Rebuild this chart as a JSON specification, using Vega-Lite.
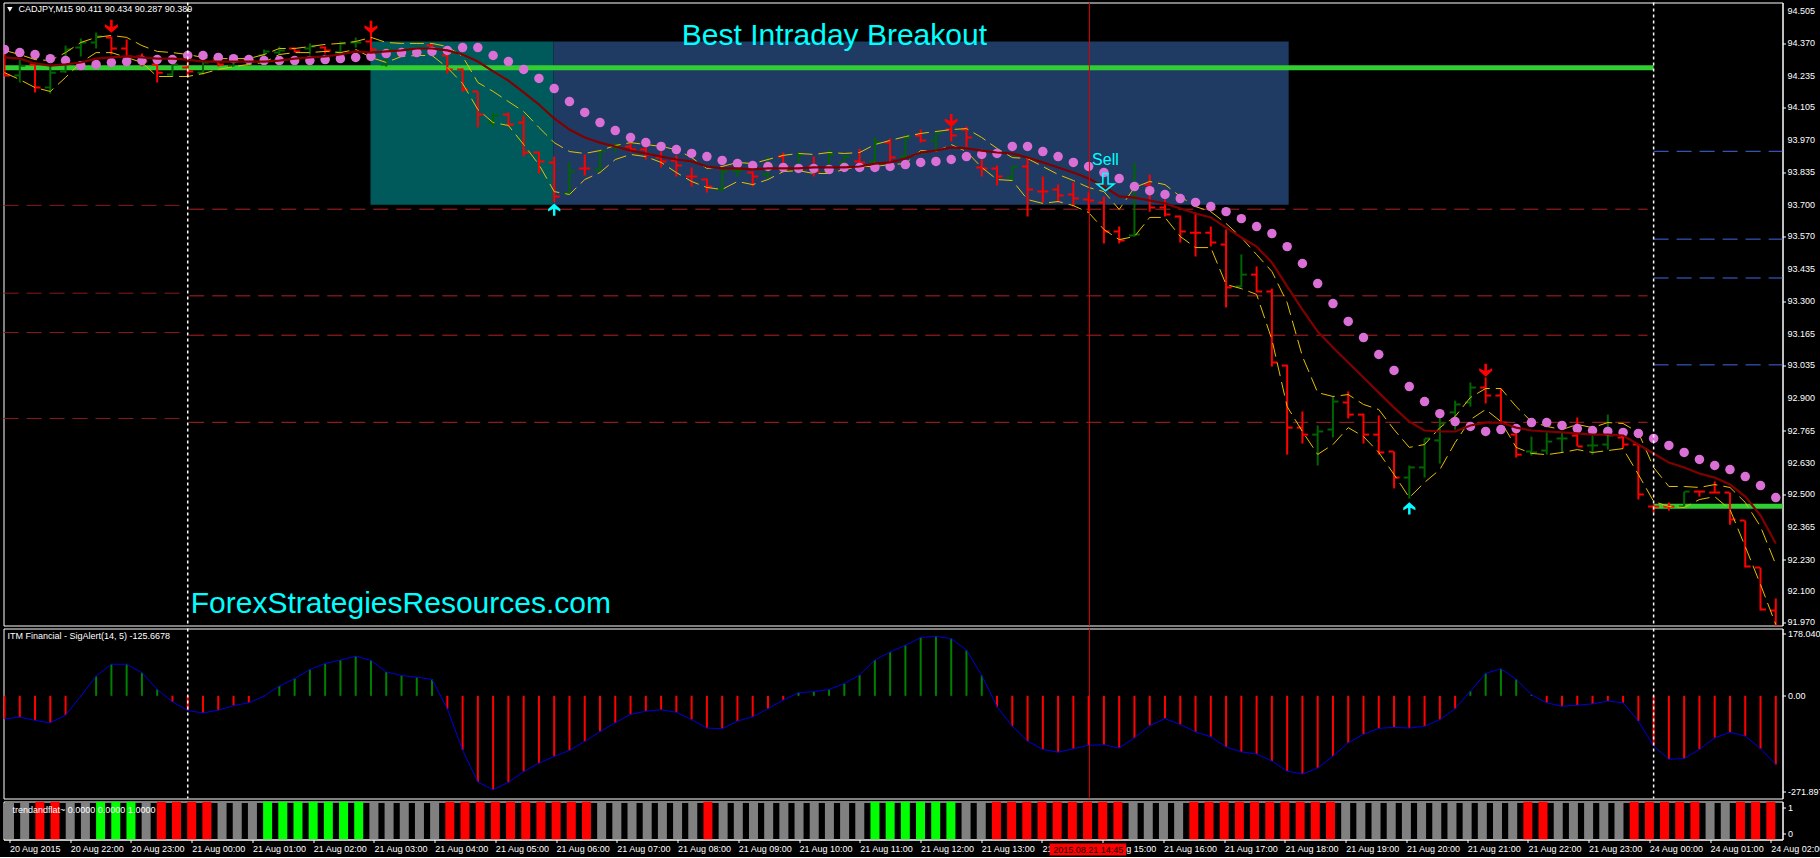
{
"$schema":"https://vega.github.io/schema/vega-lite/v6.json",
"background":"#000000",
"padding":{"left":0.5,"top":0.5,"right":0,"bottom":0},
"spacing":3,
"bounds":"flush",
"config":{"view":{"stroke":"#ffffff","strokeWidth":1},"concat":{"spacing":3},"font":"Liberation Sans","axis":{"labelFont":"Liberation Sans","labelOverlap":false}},
"datasets":{
"bars":[
{"i":0,"h":94.344,"l":94.232,"o":94.331,"c":94.236,"dir":"down","ma":94.311,"sar":94.344,"up":94.340,"lo":94.248},
{"i":1,"h":94.302,"l":94.207,"o":94.236,"c":94.277,"dir":"up","ma":94.306,"sar":94.331,"up":94.323,"lo":94.219},
{"i":2,"h":94.290,"l":94.166,"o":94.282,"c":94.186,"dir":"down","ma":94.286,"sar":94.323,"up":94.302,"lo":94.186},
{"i":3,"h":94.277,"l":94.161,"o":94.186,"c":94.248,"dir":"up","ma":94.277,"sar":94.306,"up":94.298,"lo":94.170},
{"i":4,"h":94.360,"l":94.248,"o":94.253,"c":94.344,"dir":"up","ma":94.282,"sar":94.298,"up":94.331,"lo":94.228},
{"i":5,"h":94.389,"l":94.315,"o":94.352,"c":94.373,"dir":"up","ma":94.290,"sar":94.277,"up":94.373,"lo":94.290},
{"i":6,"h":94.414,"l":94.348,"o":94.373,"c":94.398,"dir":"up","ma":94.306,"sar":94.282,"up":94.394,"lo":94.331},
{"i":7,"h":94.398,"l":94.323,"o":94.394,"c":94.348,"dir":"down","ma":94.311,"sar":94.290,"up":94.402,"lo":94.331},
{"i":8,"h":94.385,"l":94.306,"o":94.348,"c":94.315,"dir":"down","ma":94.315,"sar":94.294,"up":94.394,"lo":94.311},
{"i":9,"h":94.327,"l":94.273,"o":94.315,"c":94.294,"dir":"down","ma":94.311,"sar":94.298,"up":94.360,"lo":94.290},
{"i":10,"h":94.290,"l":94.207,"o":94.282,"c":94.248,"dir":"down","ma":94.306,"sar":94.302,"up":94.336,"lo":94.232},
{"i":11,"h":94.290,"l":94.232,"o":94.240,"c":94.282,"dir":"up","ma":94.306,"sar":94.302,"up":94.331,"lo":94.232},
{"i":12,"h":94.294,"l":94.232,"o":94.269,"c":94.253,"dir":"down","ma":94.302,"sar":94.319,"up":94.323,"lo":94.232},
{"i":13,"h":94.294,"l":94.240,"o":94.248,"c":94.290,"dir":"up","ma":94.294,"sar":94.319,"up":94.311,"lo":94.244},
{"i":14,"h":94.302,"l":94.273,"o":94.298,"c":94.282,"dir":"down","ma":94.294,"sar":94.311,"up":94.306,"lo":94.261},
{"i":15,"h":94.302,"l":94.273,"o":94.277,"c":94.294,"dir":"up","ma":94.294,"sar":94.306,"up":94.306,"lo":94.273},
{"i":16,"h":94.311,"l":94.290,"o":94.306,"c":94.294,"dir":"down","ma":94.294,"sar":94.302,"up":94.306,"lo":94.282},
{"i":17,"h":94.344,"l":94.290,"o":94.319,"c":94.336,"dir":"up","ma":94.294,"sar":94.298,"up":94.323,"lo":94.290},
{"i":18,"h":94.356,"l":94.323,"o":94.331,"c":94.340,"dir":"up","ma":94.298,"sar":94.298,"up":94.348,"lo":94.323},
{"i":19,"h":94.352,"l":94.331,"o":94.348,"c":94.336,"dir":"down","ma":94.306,"sar":94.298,"up":94.348,"lo":94.331},
{"i":20,"h":94.369,"l":94.323,"o":94.348,"c":94.356,"dir":"up","ma":94.311,"sar":94.298,"up":94.356,"lo":94.331},
{"i":21,"h":94.356,"l":94.327,"o":94.352,"c":94.340,"dir":"down","ma":94.315,"sar":94.302,"up":94.365,"lo":94.336},
{"i":22,"h":94.377,"l":94.323,"o":94.331,"c":94.369,"dir":"up","ma":94.323,"sar":94.306,"up":94.369,"lo":94.331},
{"i":23,"h":94.394,"l":94.352,"o":94.373,"c":94.373,"dir":"up","ma":94.336,"sar":94.311,"up":94.377,"lo":94.344},
{"i":24,"h":94.414,"l":94.336,"o":94.377,"c":94.344,"dir":"down","ma":94.331,"sar":94.315,"up":94.394,"lo":94.311},
{"i":25,"h":94.356,"l":94.273,"o":94.282,"c":94.344,"dir":"up","ma":94.336,"sar":94.327,"up":94.373,"lo":94.290},
{"i":26,"h":94.348,"l":94.315,"o":94.323,"c":94.340,"dir":"up","ma":94.340,"sar":94.331,"up":94.369,"lo":94.315},
{"i":27,"h":94.356,"l":94.323,"o":94.331,"c":94.348,"dir":"up","ma":94.348,"sar":94.331,"up":94.369,"lo":94.319},
{"i":28,"h":94.369,"l":94.340,"o":94.360,"c":94.348,"dir":"down","ma":94.348,"sar":94.336,"up":94.369,"lo":94.319},
{"i":29,"h":94.336,"l":94.244,"o":94.319,"c":94.261,"dir":"down","ma":94.340,"sar":94.340,"up":94.356,"lo":94.269},
{"i":30,"h":94.265,"l":94.170,"o":94.261,"c":94.178,"dir":"down","ma":94.323,"sar":94.352,"up":94.315,"lo":94.203},
{"i":31,"h":94.170,"l":94.021,"o":94.170,"c":94.074,"dir":"down","ma":94.294,"sar":94.352,"up":94.207,"lo":94.095},
{"i":32,"h":94.079,"l":94.025,"o":94.041,"c":94.070,"dir":"up","ma":94.253,"sar":94.319,"up":94.170,"lo":94.041},
{"i":33,"h":94.083,"l":94.025,"o":94.074,"c":94.033,"dir":"down","ma":94.215,"sar":94.294,"up":94.128,"lo":94.029},
{"i":34,"h":94.070,"l":93.900,"o":94.041,"c":93.917,"dir":"down","ma":94.166,"sar":94.261,"up":94.087,"lo":93.950},
{"i":35,"h":93.921,"l":93.830,"o":93.917,"c":93.880,"dir":"down","ma":94.116,"sar":94.224,"up":94.021,"lo":93.867},
{"i":36,"h":93.900,"l":93.710,"o":93.876,"c":93.735,"dir":"down","ma":94.058,"sar":94.182,"up":93.958,"lo":93.755},
{"i":37,"h":93.876,"l":93.743,"o":93.747,"c":93.838,"dir":"up","ma":94.012,"sar":94.128,"up":93.921,"lo":93.743},
{"i":38,"h":93.909,"l":93.822,"o":93.851,"c":93.851,"dir":"down","ma":93.979,"sar":94.083,"up":93.913,"lo":93.805},
{"i":39,"h":93.925,"l":93.838,"o":93.847,"c":93.921,"dir":"up","ma":93.958,"sar":94.041,"up":93.925,"lo":93.834},
{"i":40,"h":93.958,"l":93.917,"o":93.942,"c":93.946,"dir":"up","ma":93.942,"sar":94.008,"up":93.946,"lo":93.888},
{"i":41,"h":93.958,"l":93.917,"o":93.942,"c":93.929,"dir":"down","ma":93.925,"sar":93.979,"up":93.958,"lo":93.909},
{"i":42,"h":93.942,"l":93.888,"o":93.929,"c":93.909,"dir":"down","ma":93.913,"sar":93.958,"up":93.950,"lo":93.900},
{"i":43,"h":93.921,"l":93.855,"o":93.896,"c":93.880,"dir":"down","ma":93.900,"sar":93.942,"up":93.942,"lo":93.876},
{"i":44,"h":93.905,"l":93.818,"o":93.884,"c":93.863,"dir":"down","ma":93.888,"sar":93.929,"up":93.929,"lo":93.834},
{"i":45,"h":93.855,"l":93.776,"o":93.818,"c":93.818,"dir":"down","ma":93.880,"sar":93.913,"up":93.896,"lo":93.797},
{"i":46,"h":93.809,"l":93.751,"o":93.805,"c":93.776,"dir":"down","ma":93.859,"sar":93.900,"up":93.851,"lo":93.772},
{"i":47,"h":93.859,"l":93.755,"o":93.764,"c":93.838,"dir":"up","ma":93.851,"sar":93.884,"up":93.859,"lo":93.764},
{"i":48,"h":93.880,"l":93.818,"o":93.842,"c":93.842,"dir":"up","ma":93.851,"sar":93.871,"up":93.876,"lo":93.797},
{"i":49,"h":93.838,"l":93.776,"o":93.834,"c":93.818,"dir":"down","ma":93.847,"sar":93.863,"up":93.871,"lo":93.784},
{"i":50,"h":93.900,"l":93.809,"o":93.826,"c":93.863,"dir":"up","ma":93.851,"sar":93.859,"up":93.888,"lo":93.805},
{"i":51,"h":93.917,"l":93.842,"o":93.900,"c":93.859,"dir":"down","ma":93.851,"sar":93.855,"up":93.905,"lo":93.838},
{"i":52,"h":93.921,"l":93.838,"o":93.842,"c":93.909,"dir":"up","ma":93.851,"sar":93.851,"up":93.913,"lo":93.842},
{"i":53,"h":93.900,"l":93.818,"o":93.859,"c":93.838,"dir":"down","ma":93.855,"sar":93.851,"up":93.909,"lo":93.830},
{"i":54,"h":93.929,"l":93.834,"o":93.838,"c":93.909,"dir":"up","ma":93.855,"sar":93.847,"up":93.917,"lo":93.830},
{"i":55,"h":93.909,"l":93.847,"o":93.876,"c":93.900,"dir":"up","ma":93.855,"sar":93.855,"up":93.913,"lo":93.847},
{"i":56,"h":93.933,"l":93.855,"o":93.880,"c":93.876,"dir":"down","ma":93.859,"sar":93.855,"up":93.917,"lo":93.859},
{"i":57,"h":93.979,"l":93.876,"o":93.880,"c":93.958,"dir":"up","ma":93.871,"sar":93.855,"up":93.950,"lo":93.859},
{"i":58,"h":93.975,"l":93.876,"o":93.958,"c":93.896,"dir":"down","ma":93.876,"sar":93.859,"up":93.967,"lo":93.867},
{"i":59,"h":93.992,"l":93.896,"o":93.900,"c":93.979,"dir":"up","ma":93.892,"sar":93.867,"up":93.983,"lo":93.871},
{"i":60,"h":94.012,"l":93.958,"o":93.987,"c":93.967,"dir":"down","ma":93.917,"sar":93.876,"up":93.996,"lo":93.925},
{"i":61,"h":93.999,"l":93.925,"o":93.967,"c":93.996,"dir":"up","ma":93.925,"sar":93.880,"up":94.004,"lo":93.921},
{"i":62,"h":94.025,"l":93.963,"o":94.012,"c":93.987,"dir":"down","ma":93.938,"sar":93.888,"up":94.012,"lo":93.950},
{"i":63,"h":94.025,"l":93.938,"o":94.012,"c":93.979,"dir":"down","ma":93.934,"sar":93.900,"up":94.016,"lo":93.921},
{"i":64,"h":93.888,"l":93.818,"o":93.855,"c":93.851,"dir":"down","ma":93.925,"sar":93.909,"up":93.979,"lo":93.855},
{"i":65,"h":93.863,"l":93.780,"o":93.851,"c":93.818,"dir":"down","ma":93.917,"sar":93.913,"up":93.934,"lo":93.805},
{"i":66,"h":93.859,"l":93.797,"o":93.813,"c":93.859,"dir":"up","ma":93.913,"sar":93.942,"up":93.896,"lo":93.801},
{"i":67,"h":93.892,"l":93.652,"o":93.859,"c":93.764,"dir":"down","ma":93.896,"sar":93.942,"up":93.892,"lo":93.722},
{"i":68,"h":93.818,"l":93.710,"o":93.755,"c":93.755,"dir":"down","ma":93.876,"sar":93.921,"up":93.859,"lo":93.706},
{"i":69,"h":93.784,"l":93.710,"o":93.764,"c":93.739,"dir":"down","ma":93.855,"sar":93.900,"up":93.826,"lo":93.714},
{"i":70,"h":93.793,"l":93.693,"o":93.743,"c":93.726,"dir":"down","ma":93.834,"sar":93.876,"up":93.801,"lo":93.697},
{"i":71,"h":93.751,"l":93.672,"o":93.722,"c":93.718,"dir":"down","ma":93.809,"sar":93.859,"up":93.772,"lo":93.668},
{"i":72,"h":93.735,"l":93.540,"o":93.710,"c":93.590,"dir":"down","ma":93.776,"sar":93.834,"up":93.755,"lo":93.598},
{"i":73,"h":93.610,"l":93.540,"o":93.590,"c":93.552,"dir":"down","ma":93.735,"sar":93.809,"up":93.681,"lo":93.556},
{"i":74,"h":93.876,"l":93.569,"o":93.573,"c":93.577,"dir":"up","ma":93.730,"sar":93.776,"up":93.772,"lo":93.569},
{"i":75,"h":93.826,"l":93.672,"o":93.784,"c":93.689,"dir":"down","ma":93.718,"sar":93.759,"up":93.797,"lo":93.648},
{"i":76,"h":93.722,"l":93.652,"o":93.689,"c":93.660,"dir":"down","ma":93.706,"sar":93.743,"up":93.784,"lo":93.648},
{"i":77,"h":93.656,"l":93.544,"o":93.652,"c":93.590,"dir":"down","ma":93.685,"sar":93.726,"up":93.735,"lo":93.569},
{"i":78,"h":93.668,"l":93.486,"o":93.585,"c":93.585,"dir":"down","ma":93.664,"sar":93.710,"up":93.693,"lo":93.523},
{"i":79,"h":93.610,"l":93.527,"o":93.585,"c":93.544,"dir":"down","ma":93.648,"sar":93.693,"up":93.672,"lo":93.523},
{"i":80,"h":93.598,"l":93.275,"o":93.536,"c":93.358,"dir":"down","ma":93.606,"sar":93.672,"up":93.623,"lo":93.370},
{"i":81,"h":93.494,"l":93.358,"o":93.362,"c":93.411,"dir":"up","ma":93.565,"sar":93.643,"up":93.565,"lo":93.353},
{"i":82,"h":93.445,"l":93.337,"o":93.411,"c":93.341,"dir":"down","ma":93.527,"sar":93.610,"up":93.494,"lo":93.329},
{"i":83,"h":93.353,"l":93.030,"o":93.341,"c":93.047,"dir":"down","ma":93.461,"sar":93.581,"up":93.424,"lo":93.142},
{"i":84,"h":93.038,"l":92.665,"o":93.034,"c":92.777,"dir":"down","ma":93.362,"sar":93.527,"up":93.295,"lo":92.864},
{"i":85,"h":92.844,"l":92.711,"o":92.777,"c":92.748,"dir":"down","ma":93.266,"sar":93.457,"up":93.072,"lo":92.761},
{"i":86,"h":92.786,"l":92.620,"o":92.748,"c":92.761,"dir":"up","ma":93.175,"sar":93.374,"up":92.922,"lo":92.666},
{"i":87,"h":92.906,"l":92.736,"o":92.769,"c":92.885,"dir":"up","ma":93.109,"sar":93.291,"up":92.906,"lo":92.707},
{"i":88,"h":92.927,"l":92.815,"o":92.881,"c":92.831,"dir":"down","ma":93.047,"sar":93.217,"up":92.914,"lo":92.777},
{"i":89,"h":92.835,"l":92.711,"o":92.831,"c":92.748,"dir":"down","ma":92.985,"sar":93.150,"up":92.873,"lo":92.740},
{"i":90,"h":92.827,"l":92.665,"o":92.748,"c":92.674,"dir":"down","ma":92.922,"sar":93.080,"up":92.852,"lo":92.674},
{"i":91,"h":92.678,"l":92.525,"o":92.678,"c":92.570,"dir":"down","ma":92.860,"sar":93.014,"up":92.769,"lo":92.583},
{"i":92,"h":92.620,"l":92.483,"o":92.570,"c":92.612,"dir":"up","ma":92.802,"sar":92.947,"up":92.695,"lo":92.487},
{"i":93,"h":92.732,"l":92.570,"o":92.612,"c":92.732,"dir":"up","ma":92.765,"sar":92.885,"up":92.707,"lo":92.550},
{"i":94,"h":92.819,"l":92.628,"o":92.724,"c":92.794,"dir":"up","ma":92.761,"sar":92.835,"up":92.777,"lo":92.603},
{"i":95,"h":92.889,"l":92.769,"o":92.840,"c":92.873,"dir":"up","ma":92.761,"sar":92.802,"up":92.823,"lo":92.715},
{"i":96,"h":92.964,"l":92.864,"o":92.881,"c":92.943,"dir":"up","ma":92.786,"sar":92.782,"up":92.902,"lo":92.810},
{"i":97,"h":92.985,"l":92.877,"o":92.943,"c":92.910,"dir":"down","ma":92.798,"sar":92.761,"up":92.939,"lo":92.852},
{"i":98,"h":92.939,"l":92.794,"o":92.910,"c":92.798,"dir":"down","ma":92.798,"sar":92.769,"up":92.939,"lo":92.802},
{"i":99,"h":92.757,"l":92.653,"o":92.748,"c":92.665,"dir":"down","ma":92.777,"sar":92.773,"up":92.864,"lo":92.695},
{"i":100,"h":92.740,"l":92.661,"o":92.678,"c":92.674,"dir":"up","ma":92.765,"sar":92.798,"up":92.802,"lo":92.670},
{"i":101,"h":92.757,"l":92.665,"o":92.682,"c":92.719,"dir":"up","ma":92.761,"sar":92.798,"up":92.782,"lo":92.665},
{"i":102,"h":92.757,"l":92.674,"o":92.732,"c":92.732,"dir":"up","ma":92.757,"sar":92.786,"up":92.769,"lo":92.674},
{"i":103,"h":92.819,"l":92.699,"o":92.744,"c":92.699,"dir":"down","ma":92.753,"sar":92.773,"up":92.790,"lo":92.686},
{"i":104,"h":92.744,"l":92.665,"o":92.703,"c":92.703,"dir":"up","ma":92.748,"sar":92.765,"up":92.777,"lo":92.674},
{"i":105,"h":92.831,"l":92.686,"o":92.707,"c":92.744,"dir":"up","ma":92.748,"sar":92.761,"up":92.798,"lo":92.682},
{"i":106,"h":92.740,"l":92.690,"o":92.736,"c":92.707,"dir":"down","ma":92.744,"sar":92.757,"up":92.794,"lo":92.690},
{"i":107,"h":92.707,"l":92.479,"o":92.707,"c":92.500,"dir":"down","ma":92.707,"sar":92.753,"up":92.757,"lo":92.583},
{"i":108,"h":92.458,"l":92.425,"o":92.450,"c":92.450,"dir":"down","ma":92.670,"sar":92.732,"up":92.612,"lo":92.471},
{"i":109,"h":92.467,"l":92.433,"o":92.450,"c":92.450,"dir":"down","ma":92.632,"sar":92.703,"up":92.533,"lo":92.450},
{"i":110,"h":92.512,"l":92.450,"o":92.450,"c":92.512,"dir":"up","ma":92.612,"sar":92.674,"up":92.533,"lo":92.446},
{"i":111,"h":92.516,"l":92.491,"o":92.512,"c":92.512,"dir":"down","ma":92.587,"sar":92.645,"up":92.529,"lo":92.479},
{"i":112,"h":92.554,"l":92.504,"o":92.508,"c":92.508,"dir":"down","ma":92.570,"sar":92.620,"up":92.541,"lo":92.491},
{"i":113,"h":92.508,"l":92.375,"o":92.508,"c":92.396,"dir":"down","ma":92.541,"sar":92.603,"up":92.529,"lo":92.438},
{"i":114,"h":92.392,"l":92.197,"o":92.392,"c":92.201,"dir":"down","ma":92.491,"sar":92.574,"up":92.467,"lo":92.284},
{"i":115,"h":92.197,"l":92.019,"o":92.197,"c":92.023,"dir":"down","ma":92.413,"sar":92.537,"up":92.367,"lo":92.127},
{"i":116,"h":92.069,"l":91.953,"o":92.019,"c":91.953,"dir":"down","ma":92.297,"sar":92.487,"up":92.210,"lo":91.961}
],
"osc":[
{"i":0,"v":-66},{"i":1,"v":-61},{"i":2,"v":-70},{"i":3,"v":-77},{"i":4,"v":-55},{"i":5,"v":-1},{"i":6,"v":56},{"i":7,"v":90},{"i":8,"v":90},{"i":9,"v":66},
{"i":10,"v":18},{"i":11,"v":-17},{"i":12,"v":-42},{"i":13,"v":-49},{"i":14,"v":-41},{"i":15,"v":-28},{"i":16,"v":-20},{"i":17,"v":-1},{"i":18,"v":28},{"i":19,"v":49},
{"i":20,"v":75},{"i":21,"v":92},{"i":22,"v":102},{"i":23,"v":113},{"i":24,"v":101},{"i":25,"v":68},{"i":26,"v":58},{"i":27,"v":53},{"i":28,"v":47},{"i":29,"v":-37},
{"i":30,"v":-155},{"i":31,"v":-246},{"i":32,"v":-268},{"i":33,"v":-247},{"i":34,"v":-216},{"i":35,"v":-192},{"i":36,"v":-173},{"i":37,"v":-156},{"i":38,"v":-130},{"i":39,"v":-102},
{"i":40,"v":-77},{"i":41,"v":-53},{"i":42,"v":-44},{"i":43,"v":-40},{"i":44,"v":-47},{"i":45,"v":-68},{"i":46,"v":-92},{"i":47,"v":-94},{"i":48,"v":-72},{"i":49,"v":-60},
{"i":50,"v":-37},{"i":51,"v":-12},{"i":52,"v":9},{"i":53,"v":12},{"i":54,"v":18},{"i":55,"v":35},{"i":56,"v":59},{"i":57,"v":102},{"i":58,"v":125},{"i":59,"v":144},
{"i":60,"v":166},{"i":61,"v":170},{"i":62,"v":163},{"i":63,"v":130},{"i":64,"v":58},{"i":65,"v":-31},{"i":66,"v":-87},{"i":67,"v":-129},{"i":68,"v":-153},{"i":69,"v":-161},
{"i":70,"v":-151},{"i":71,"v":-141},{"i":72,"v":-140},{"i":73,"v":-149},{"i":74,"v":-120},{"i":75,"v":-85},{"i":76,"v":-65},{"i":77,"v":-82},{"i":78,"v":-103},{"i":79,"v":-117},
{"i":80,"v":-146},{"i":81,"v":-160},{"i":82,"v":-166},{"i":83,"v":-186},{"i":84,"v":-215},{"i":85,"v":-223},{"i":86,"v":-206},{"i":87,"v":-172},{"i":88,"v":-134},{"i":89,"v":-110},
{"i":90,"v":-93},{"i":91,"v":-90},{"i":92,"v":-92},{"i":93,"v":-87},{"i":94,"v":-68},{"i":95,"v":-37},{"i":96,"v":13},{"i":97,"v":64},{"i":98,"v":77},{"i":99,"v":47},
{"i":100,"v":3},{"i":101,"v":-20},{"i":102,"v":-30},{"i":103,"v":-27},{"i":104,"v":-23},{"i":105,"v":-15},{"i":106,"v":-20},{"i":107,"v":-72},{"i":108,"v":-143},{"i":109,"v":-181},
{"i":110,"v":-179},{"i":111,"v":-153},{"i":112,"v":-120},{"i":113,"v":-104},{"i":114,"v":-115},{"i":115,"v":-151},{"i":116,"v":-196}
],
"trend":[
{"i":0,"s":"flat"},{"i":1,"s":"flat"},{"i":2,"s":"down"},{"i":3,"s":"down"},{"i":4,"s":"flat"},{"i":5,"s":"flat"},{"i":6,"s":"up"},{"i":7,"s":"up"},{"i":8,"s":"up"},{"i":9,"s":"flat"},
{"i":10,"s":"down"},{"i":11,"s":"down"},{"i":12,"s":"down"},{"i":13,"s":"down"},{"i":14,"s":"flat"},{"i":15,"s":"flat"},{"i":16,"s":"flat"},{"i":17,"s":"up"},{"i":18,"s":"up"},{"i":19,"s":"up"},
{"i":20,"s":"up"},{"i":21,"s":"up"},{"i":22,"s":"up"},{"i":23,"s":"up"},{"i":24,"s":"flat"},{"i":25,"s":"flat"},{"i":26,"s":"flat"},{"i":27,"s":"flat"},{"i":28,"s":"flat"},{"i":29,"s":"down"},
{"i":30,"s":"down"},{"i":31,"s":"down"},{"i":32,"s":"down"},{"i":33,"s":"down"},{"i":34,"s":"down"},{"i":35,"s":"down"},{"i":36,"s":"down"},{"i":37,"s":"down"},{"i":38,"s":"down"},{"i":39,"s":"flat"},
{"i":40,"s":"flat"},{"i":41,"s":"flat"},{"i":42,"s":"flat"},{"i":43,"s":"flat"},{"i":44,"s":"flat"},{"i":45,"s":"flat"},{"i":46,"s":"down"},{"i":47,"s":"flat"},{"i":48,"s":"flat"},{"i":49,"s":"flat"},
{"i":50,"s":"flat"},{"i":51,"s":"flat"},{"i":52,"s":"flat"},{"i":53,"s":"flat"},{"i":54,"s":"flat"},{"i":55,"s":"flat"},{"i":56,"s":"flat"},{"i":57,"s":"up"},{"i":58,"s":"up"},{"i":59,"s":"up"},
{"i":60,"s":"up"},{"i":61,"s":"up"},{"i":62,"s":"up"},{"i":63,"s":"flat"},{"i":64,"s":"flat"},{"i":65,"s":"down"},{"i":66,"s":"down"},{"i":67,"s":"down"},{"i":68,"s":"down"},{"i":69,"s":"down"},
{"i":70,"s":"down"},{"i":71,"s":"down"},{"i":72,"s":"down"},{"i":73,"s":"down"},{"i":74,"s":"flat"},{"i":75,"s":"flat"},{"i":76,"s":"flat"},{"i":77,"s":"flat"},{"i":78,"s":"down"},{"i":79,"s":"down"},
{"i":80,"s":"down"},{"i":81,"s":"down"},{"i":82,"s":"down"},{"i":83,"s":"down"},{"i":84,"s":"down"},{"i":85,"s":"down"},{"i":86,"s":"down"},{"i":87,"s":"down"},{"i":88,"s":"flat"},{"i":89,"s":"flat"},
{"i":90,"s":"flat"},{"i":91,"s":"flat"},{"i":92,"s":"flat"},{"i":93,"s":"flat"},{"i":94,"s":"flat"},{"i":95,"s":"flat"},{"i":96,"s":"flat"},{"i":97,"s":"flat"},{"i":98,"s":"flat"},{"i":99,"s":"flat"},
{"i":100,"s":"down"},{"i":101,"s":"down"},{"i":102,"s":"flat"},{"i":103,"s":"flat"},{"i":104,"s":"flat"},{"i":105,"s":"flat"},{"i":106,"s":"flat"},{"i":107,"s":"down"},{"i":108,"s":"down"},{"i":109,"s":"down"},
{"i":110,"s":"down"},{"i":111,"s":"down"},{"i":112,"s":"flat"},{"i":113,"s":"flat"},{"i":114,"s":"down"},{"i":115,"s":"down"},{"i":116,"s":"down"}
]
},
"vconcat":[
{"width":1779,"height":623,
"encoding":{"x":{"field":"i","type":"quantitative","scale":{"domain":[-0.065,116.44],"nice":false,"zero":false},"axis":null}},
"layer":[
{"data":{"values":[{"a":23.97,"b":35.95,"top":94.377,"bot":93.701}]},
"mark":{"type":"rect","color":"#005a5c"},
"encoding":{"x":{"field":"a","type":"quantitative"},"x2":{"field":"b"},
"y":{"field":"top","type":"quantitative","scale":{"domain":[91.957,94.5386],"nice":false,"zero":false},"axis":{"orient":"right","title":null,"values":[94.505,94.37,94.235,94.105,93.97,93.835,93.7,93.57,93.435,93.3,93.165,93.035,92.9,92.765,92.63,92.5,92.365,92.23,92.1,91.97],"labels":false,"grid":false,"domainColor":"#ffffff","tickColor":"#ffffff","tickSize":3}},
"y2":{"field":"bot"}}},
{"data":{"values":[{"a":35.95,"b":84.1,"top":94.377,"bot":93.701}]},
"mark":{"type":"rect","color":"#1f3b64"},
"encoding":{"x":{"field":"a","type":"quantitative"},"x2":{"field":"b"},"y":{"field":"top","type":"quantitative"},"y2":{"field":"bot"}}},
{"data":{"values":[{"a":-0.065,"b":108,"p":94.268},{"a":108,"b":116.44,"p":92.451}]},
"mark":{"type":"rule","color":"#32cd32","strokeWidth":5},
"encoding":{"x":{"field":"a","type":"quantitative"},"x2":{"field":"b"},"y":{"field":"p","type":"quantitative"}}},
{"data":{"values":[{"a":-0.065,"b":11.8,"p":93.698},{"a":-0.065,"b":11.8,"p":93.334},{"a":-0.065,"b":11.8,"p":93.171},{"a":-0.065,"b":11.8,"p":92.815}]},
"mark":{"type":"rule","color":"#8b1a1a","strokeWidth":1,"strokeDash":[15,8]},
"encoding":{"x":{"field":"a","type":"quantitative"},"x2":{"field":"b"},"y":{"field":"p","type":"quantitative"}}},
{"data":{"values":[{"a":12.1,"b":107.6,"p":93.682},{"a":12.1,"b":107.6,"p":93.323},{"a":12.1,"b":107.6,"p":93.160},{"a":12.1,"b":107.6,"p":92.799}]},
"mark":{"type":"rule","color":"#b22222","strokeWidth":1,"strokeDash":[15,8]},
"encoding":{"x":{"field":"a","type":"quantitative"},"x2":{"field":"b"},"y":{"field":"p","type":"quantitative"}}},
{"data":{"values":[{"a":108,"b":116.44,"p":93.922},{"a":108,"b":116.44,"p":93.558},{"a":108,"b":116.44,"p":93.397},{"a":108,"b":116.44,"p":93.037}]},
"mark":{"type":"rule","color":"#4169e1","strokeWidth":1,"strokeDash":[15,8]},
"encoding":{"x":{"field":"a","type":"quantitative"},"x2":{"field":"b"},"y":{"field":"p","type":"quantitative"}}},
{"data":{"name":"bars"},"mark":{"type":"rule","strokeWidth":2,"clip":true},
"encoding":{"y":{"field":"h","type":"quantitative"},"y2":{"field":"l"},"color":{"condition":{"test":"datum.dir=='up'","value":"#006400"},"value":"#ff0000"}}},
{"data":{"name":"bars"},"mark":{"type":"tick","orient":"horizontal","size":5,"thickness":2,"xOffset":-3,"opacity":1,"clip":true},
"encoding":{"y":{"field":"o","type":"quantitative"},"color":{"condition":{"test":"datum.dir=='up'","value":"#006400"},"value":"#ff0000"}}},
{"data":{"name":"bars"},"mark":{"type":"tick","orient":"horizontal","size":5,"thickness":2,"xOffset":3,"opacity":1,"clip":true},
"encoding":{"y":{"field":"c","type":"quantitative"},"color":{"condition":{"test":"datum.dir=='up'","value":"#006400"},"value":"#ff0000"}}},
{"data":{"name":"bars"},"mark":{"type":"line","color":"#e6c000","strokeWidth":1,"strokeDash":[14,6],"clip":true},
"encoding":{"y":{"field":"up","type":"quantitative"}}},
{"data":{"name":"bars"},"mark":{"type":"line","color":"#e6c000","strokeWidth":1,"strokeDash":[14,6],"clip":true},
"encoding":{"y":{"field":"lo","type":"quantitative"}}},
{"data":{"name":"bars"},"mark":{"type":"circle","color":"#da70d6","size":90,"opacity":1,"clip":true},
"encoding":{"y":{"field":"sar","type":"quantitative"}}},
{"data":{"name":"bars"},"mark":{"type":"line","color":"#800000","strokeWidth":2.2,"clip":true},
"encoding":{"y":{"field":"ma","type":"quantitative"}}},
{"data":{"values":[{"i":7,"p":94.44},{"i":24,"p":94.436},{"i":62,"p":94.05},{"i":97,"p":93.015}]},
"mark":{"type":"point","filled":true,"opacity":1,"color":"#ff0000","size":170,"shape":"M-0.2,-1 L0.2,-1 L0.2,0.1 L1,-0.3 L1,0.1 L0,1 L-1,0.1 L-1,-0.3 L-0.2,0.1 Z"},
"encoding":{"y":{"field":"p","type":"quantitative"}}},
{"data":{"values":[{"i":36,"p":93.68},{"i":92,"p":92.442}]},
"mark":{"type":"point","filled":true,"opacity":1,"color":"#00ffff","size":150,"shape":"M-0.2,1 L0.2,1 L0.2,-0.1 L1,0.3 L1,-0.1 L0,-1 L-1,-0.1 L-1,0.3 L-0.2,-0.1 Z"},
"encoding":{"y":{"field":"p","type":"quantitative"}}},
{"data":{"values":[{"i":72.1,"p":93.794}]},
"mark":{"type":"point","filled":false,"opacity":1,"color":"#00ffff","strokeWidth":1.5,"size":300,"shape":"M-0.3,-1 L0.3,-1 L0.3,0.2 L1,0.2 L0,1 L-1,0.2 L-0.3,0.2 Z"},
"encoding":{"y":{"field":"p","type":"quantitative"}}},
{"data":{"values":[{"i":12},{"i":108}]},
"mark":{"type":"rule","color":"#ffffff","strokeWidth":1.5,"strokeDash":[3,3]},"encoding":{}},
{"data":{"values":[{"i":71.05}]},
"mark":{"type":"rule","color":"#e00000","strokeWidth":1},"encoding":{}},
{"data":{"values":[{"i":54.35,"p":94.398,"t":"Best Intraday Breakout"}]},
"mark":{"type":"text","color":"#00ffff","font":"Liberation Sans","fontSize":30,"align":"center","baseline":"middle"},
"encoding":{"y":{"field":"p","type":"quantitative"},"text":{"field":"t"}}},
{"data":{"values":[{"i":12.2,"p":92.048,"t":"ForexStrategiesResources.com"}]},
"mark":{"type":"text","color":"#00ffff","font":"Liberation Sans","fontSize":30,"align":"left","baseline":"middle"},
"encoding":{"y":{"field":"p","type":"quantitative"},"text":{"field":"t"}}},
{"data":{"values":[{"i":72.1,"p":93.888,"t":"Sell"}]},
"mark":{"type":"text","color":"#00ffff","font":"Liberation Sans","fontSize":16,"align":"center","baseline":"middle"},
"encoding":{"y":{"field":"p","type":"quantitative"},"text":{"field":"t"}}},
{"data":{"values":[{"i":0.92,"p":94.51,"t":"CADJPY,M15  90.411 90.434 90.287 90.389"}]},
"mark":{"type":"text","color":"#ffffff","font":"Liberation Sans","fontSize":9,"align":"left","baseline":"middle"},
"encoding":{"y":{"field":"p","type":"quantitative"},"text":{"field":"t"}}},
{"data":{"values":[{"i":0.35,"p":94.51}]},
"mark":{"type":"point","filled":true,"opacity":1,"color":"#ffffff","size":30,"shape":"triangle-down"},
"encoding":{"y":{"field":"p","type":"quantitative"}}},
{"data":{"values":[{"i":116.76,"p":94.505,"t":"94.505"},{"i":116.76,"p":94.37,"t":"94.370"},{"i":116.76,"p":94.235,"t":"94.235"},{"i":116.76,"p":94.105,"t":"94.105"},{"i":116.76,"p":93.97,"t":"93.970"},{"i":116.76,"p":93.835,"t":"93.835"},{"i":116.76,"p":93.7,"t":"93.700"},{"i":116.76,"p":93.57,"t":"93.570"},{"i":116.76,"p":93.435,"t":"93.435"},{"i":116.76,"p":93.3,"t":"93.300"},{"i":116.76,"p":93.165,"t":"93.165"},{"i":116.76,"p":93.035,"t":"93.035"},{"i":116.76,"p":92.9,"t":"92.900"},{"i":116.76,"p":92.765,"t":"92.765"},{"i":116.76,"p":92.63,"t":"92.630"},{"i":116.76,"p":92.5,"t":"92.500"},{"i":116.76,"p":92.365,"t":"92.365"},{"i":116.76,"p":92.23,"t":"92.230"},{"i":116.76,"p":92.1,"t":"92.100"},{"i":116.76,"p":91.97,"t":"91.970"}]},
"mark":{"type":"text","color":"#ffffff","font":"Liberation Sans","fontSize":9,"align":"left","baseline":"middle"},
"encoding":{"y":{"field":"p","type":"quantitative"},"text":{"field":"t"}}}
]},
{"width":1779,"height":170,
"encoding":{"x":{"field":"i","type":"quantitative","scale":{"domain":[-0.065,116.44],"nice":false,"zero":false},"axis":null}},
"layer":[
{"data":{"name":"osc"},"mark":{"type":"rule","strokeWidth":2},
"encoding":{"y":{"field":"v","type":"quantitative","scale":{"domain":[-293,192],"nice":false,"zero":false},"axis":{"orient":"right","title":null,"values":[178.0403,0,-271.897],"labelExpr":"datum.value==0?'0.00':(datum.value>0?'178.0403':'-271.897')","grid":false,"domainColor":"#ffffff","tickColor":"#ffffff","tickSize":3,"labelColor":"#ffffff","labelFontSize":9,"labelPadding":2,"labelOverlap":false,"labelBound":false,"labelFlush":false}},
"y2":{"datum":0},
"color":{"condition":{"test":"datum.v>0","value":"#008000"},"value":"#ff0000"}}},
{"data":{"name":"osc"},"mark":{"type":"line","color":"#0000e0","strokeWidth":1},
"encoding":{"y":{"field":"v","type":"quantitative"}}},
{"data":{"values":[{"i":12},{"i":108}]},
"mark":{"type":"rule","color":"#ffffff","strokeWidth":1.5,"strokeDash":[3,3]},"encoding":{}},
{"data":{"values":[{"i":71.05}]},
"mark":{"type":"rule","color":"#e00000","strokeWidth":1},"encoding":{}},
{"data":{"values":[{"i":0.2,"p":171,"t":"ITM Financial - SigAlert(14, 5) -125.6678"}]},
"mark":{"type":"text","color":"#ffffff","font":"Liberation Sans","fontSize":9,"align":"left","baseline":"middle"},
"encoding":{"y":{"field":"p","type":"quantitative"},"text":{"field":"t"}}}
]},
{"width":1779,"height":38,
"encoding":{"x":{"field":"i","type":"quantitative","scale":{"domain":[-0.065,116.44],"nice":false,"zero":false},"axis":{"orient":"bottom","title":null,"values":[0,4,8,12,16,20,24,28,32,36,40,44,48,52,56,60,64,68,72,76,80,84,88,92,96,100,104,108,112,116],"labelExpr":"['20 Aug 2015','20 Aug 22:00','20 Aug 23:00','21 Aug 00:00','21 Aug 01:00','21 Aug 02:00','21 Aug 03:00','21 Aug 04:00','21 Aug 05:00','21 Aug 06:00','21 Aug 07:00','21 Aug 08:00','21 Aug 09:00','21 Aug 10:00','21 Aug 11:00','21 Aug 12:00','21 Aug 13:00','21 Aug 14:00','21 Aug 15:00','21 Aug 16:00','21 Aug 17:00','21 Aug 18:00','21 Aug 19:00','21 Aug 20:00','21 Aug 21:00','21 Aug 22:00','21 Aug 23:00','24 Aug 00:00','24 Aug 01:00','24 Aug 02:00'][datum.value/4]","labelAlign":"left","labelBaseline":"top","labelPadding":2,"labelFontSize":9,"labelColor":"#ffffff","labelOverlap":false,"labelBound":false,"labelFlush":false,"grid":false,"domainColor":"#ffffff","tickColor":"#ffffff","tickSize":3}}},
"layer":[
{"data":{"name":"trend"},"mark":{"type":"bar","size":9,"clip":true},
"encoding":{"y":{"datum":-0.23,"type":"quantitative","scale":{"domain":[-0.23,1.23],"nice":false,"zero":false},"axis":{"orient":"right","title":null,"values":[0,1],"format":"d","grid":false,"domainColor":"#ffffff","tickColor":"#ffffff","tickSize":3,"labelColor":"#ffffff","labelFontSize":9,"labelPadding":2,"labelOverlap":false}},
"y2":{"datum":1.23},
"color":{"condition":[{"test":"datum.s=='up'","value":"#00ff00"},{"test":"datum.s=='down'","value":"#ff0000"}],"value":"#808080"}}},
{"data":{"values":[{"i":0.2,"p":0.92,"t":"trendandflat~  0.0000 0.0000 1.0000"}]},
"mark":{"type":"text","color":"#ffffff","font":"Liberation Sans","fontSize":9,"align":"left","baseline":"middle"},
"encoding":{"y":{"field":"p","type":"quantitative"},"text":{"field":"t"}}},
{"data":{"values":[{"a":68.5,"b":73.55,"t":-0.385,"u":-0.846}]},
"mark":{"type":"rect","color":"#ff0000"},
"encoding":{"x":{"field":"a","type":"quantitative"},"x2":{"field":"b"},"y":{"field":"t","type":"quantitative"},"y2":{"field":"u"}}},
{"data":{"values":[{"i":71.05,"p":-0.615,"t":"2015.08.21 14:45"}]},
"mark":{"type":"text","color":"#000000","font":"Liberation Sans","fontSize":9,"align":"center","baseline":"middle"},
"encoding":{"y":{"field":"p","type":"quantitative"},"text":{"field":"t"}}}
]}
]
}
